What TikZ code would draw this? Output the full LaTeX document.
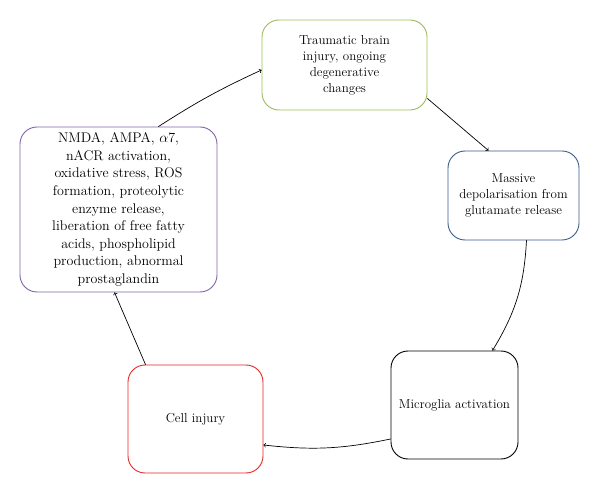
\documentclass[tikz,border=0pt]{standalone}
\usepackage{tikz}
\usetikzlibrary{arrows}
\definecolor{oliveg}{rgb}{0.61,0.73,0.35}
\definecolor{steelb}{rgb}{0.22,0.36,0.54}
\definecolor{purpl}{rgb}{0.50,0.39,0.64}
\definecolor{redd}{rgb}{0.90,0.15,0.15}

\begin{document}
\begin{tikzpicture}[line cap=round,line join=round,>=to,x=1pt,y=-1pt,
  box/.style={draw,line width=0.9pt,rounded corners=17pt,align=center,inner sep=2pt,text=black,
    font=\fontsize{13}{16}\selectfont},
  link/.style={->,line width=0.7pt}]
      \useasboundingbox (0,0) rectangle (600,494);
      \node[box,draw=oliveg,minimum width=165pt,minimum height=90pt] (tbi) at (344.5,65)
        {Traumatic brain\\injury, ongoing\\degenerative\\changes};
      \node[box,draw=steelb,minimum width=131pt,minimum height=89pt] (depol) at (513.5,195.5)
        {Massive\\depolarisation from\\glutamate release};
      \node[box,draw=black,minimum width=127pt,minimum height=108pt] (micro) at (454.5,405)
        {Microglia activation};
      \node[box,draw=redd,minimum width=135pt,minimum height=108pt] (cell) at (195.5,419)
        {Cell injury};
      \node[box,draw=purpl,minimum width=197pt,minimum height=165pt,
        font=\fontsize{14}{17.6}\selectfont] (nmda) at (118.5,209.5)
        {NMDA, AMPA, $\alpha$7,\\nACR activation,\\oxidative stress, ROS\\formation, proteolytic\\enzyme release,\\liberation of free fatty\\acids, phospholipid\\production, abnormal\\prostaglandin};
      \draw [link] ([xshift=40pt]nmda.north) to[bend left=4] ([yshift=-5pt]tbi.west);
      \draw [link] (tbi.-22) -- ([xshift=-25pt]depol.north);
      \draw [link] ([xshift=13pt]depol.south) to[bend left=14] ([xshift=38pt]micro.north);
      \draw [link] ([yshift=-34pt]micro.west) to[bend left=9] ([yshift=-26pt]cell.east);
      \draw [link] ([xshift=-50pt]cell.north) -- ([xshift=-4pt]nmda.south);
\end{tikzpicture}
\end{document}
